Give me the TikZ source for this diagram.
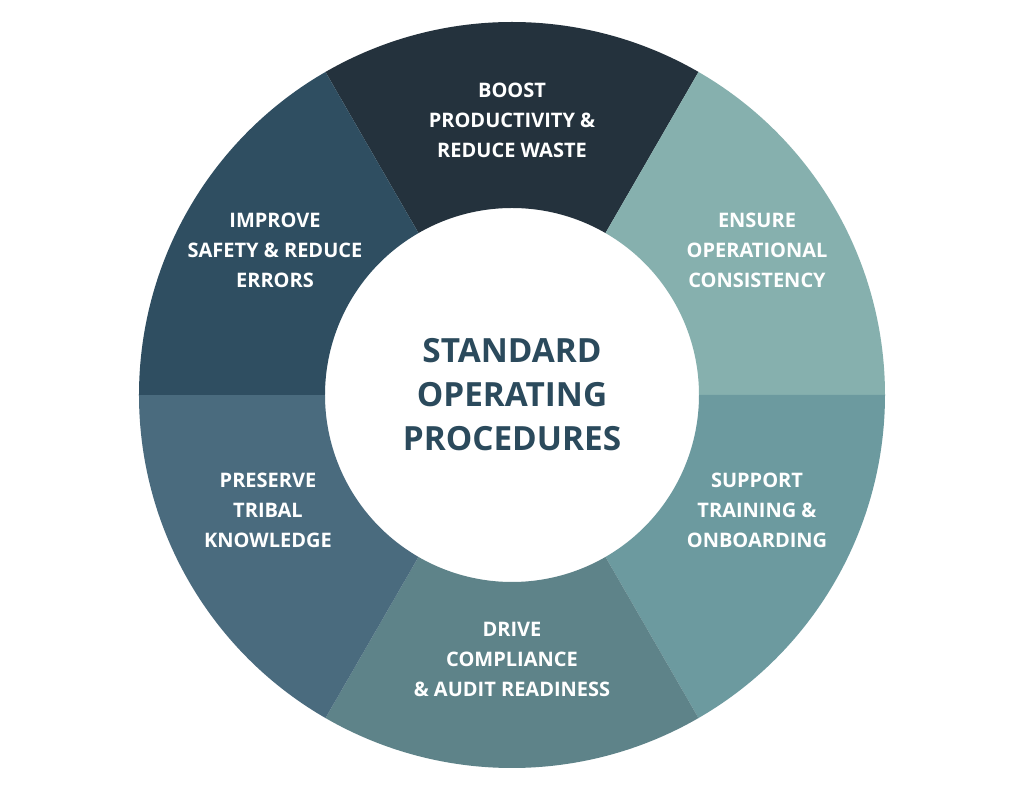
\documentclass[tikz,border=0pt]{standalone}
\usepackage{fontspec}
\setmainfont{Open Sans}
\begin{document}
\begin{tikzpicture}[x=0.75pt,y=0.75pt,
  lab/.style={text=white,font=\bfseries\fontsize{15}{22.5}\selectfont,align=center},
  ctr/.style={text=cText,font=\bfseries\fontsize{25}{33}\selectfont,align=center}]
\definecolor{cA}{HTML}{24323D}
\definecolor{cB}{HTML}{86B0AE}
\definecolor{cC}{HTML}{6C9A9F}
\definecolor{cD}{HTML}{5E8389}
\definecolor{cE}{HTML}{4A6B7E}
\definecolor{cF}{HTML}{2F4E61}
\definecolor{cText}{HTML}{2B4A5C}
\fill[white] (-512,-396) rectangle (512,395);
\useasboundingbox (-512,-396) rectangle (512,395);
\foreach \a/\c in {60/cA,0/cB,-60/cC,240/cD,180/cE,120/cF}{
  \pgfmathsetmacro{\b}{\a+60}
  \fill[\c] (\a:187) -- (\a:373) arc[start angle=\a,end angle=\b,radius=373] -- (\b:187) arc[start angle=\b,end angle=\a,radius=187] -- cycle;
}
\node[lab] (t) at (0,275) {BOOST\\PRODUCTIVITY \&\\REDUCE WASTE};
\node[lab] (tr) at (245,145) {ENSURE\\OPERATIONAL\\CONSISTENCY};
\node[lab] (br) at (245,-115) {SUPPORT\\TRAINING \&\\ONBOARDING};
\node[lab] (b) at (0,-264) {DRIVE\\COMPLIANCE\\\& AUDIT READINESS};
\node[lab] (bl) at (-244,-115) {PRESERVE\\TRIBAL\\KNOWLEDGE};
\node[lab] (tl) at (-237,145) {IMPROVE\\SAFETY \& REDUCE\\ERRORS};
\node[ctr] (c) at (0,0) {STANDARD\\OPERATING\\PROCEDURES};
\end{tikzpicture}
\end{document}
